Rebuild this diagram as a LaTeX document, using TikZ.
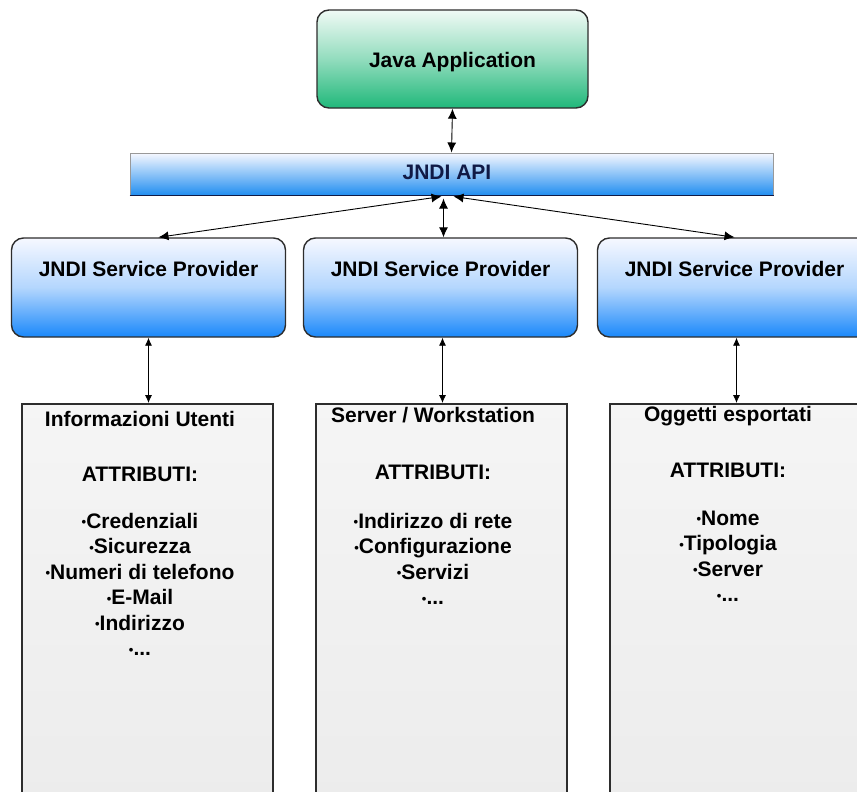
\documentclass[tikz,border=0pt]{standalone}
\usepackage{fontspec}
\setmainfont{Liberation Sans}
\usetikzlibrary{arrows.meta}

\definecolor{appgreen}{RGB}{32,184,122}
\definecolor{apptop}{RGB}{240,250,245}
\definecolor{spblue}{RGB}{26,136,250}
\definecolor{sptop}{RGB}{246,248,255}
\definecolor{apiblue}{RGB}{34,142,240}
\definecolor{apinavy}{RGB}{16,26,70}
\definecolor{boxgrey}{RGB}{236,236,236}
\definecolor{edgegrey}{RGB}{45,45,45}

\newcommand\itm{{\fontsize{13}{13}\selectfont\raisebox{1.5pt}{•}}}

\tikzset{
  lbl/.style={font=\fontsize{21}{25.5}\selectfont\bfseries, inner sep=0pt},
  appbox/.style={draw=edgegrey, line width=1.4pt, rounded corners=12pt,
    top color=apptop, bottom color=appgreen, middle color=apptop!55!appgreen,
    minimum width=271pt, minimum height=98pt, inner sep=0pt},
  apibar/.style={draw=gray!80, line width=1pt, top color=sptop, bottom color=apiblue,
    minimum width=643pt, minimum height=42pt, inner sep=0pt},
  spbox/.style={draw=edgegrey, line width=1.4pt, rounded corners=12pt,
    top color=sptop, bottom color=spblue, middle color=sptop!70!spblue,
    minimum width=274pt, minimum height=99pt, inner sep=0pt},
  infobox/.style={draw=edgegrey, line width=1.8pt, top color=white!96!black,
    bottom color=boxgrey, minimum width=251pt, minimum height=400pt, inner sep=0pt},
  infotext/.style={lbl, align=center, anchor=north},
  link/.style={line width=0.9pt, black, {Latex[length=10pt,width=9pt]}-{Latex[length=10pt,width=9pt]}},
  thinlink/.style={line width=0.8pt, black, {Latex[length=8pt,width=7pt]}-{Latex[length=8pt,width=7pt]}},
}

\begin{document}
\begin{tikzpicture}[x=1pt, y=-1pt]
\useasboundingbox (0,0) rectangle (857,792);
\clip (0,0) rectangle (857,792);

% application and API layer
\node[appbox] (java) at (452.5,59) {};
\node[lbl] (javat) at (452.5,62) {Java Application};

\node[apibar] (api) at (451.5,174) {};
\draw[apinavy, line width=1.4pt] (api.south west) -- (api.south east);
\node[lbl, text=apinavy] (apit) at (447,172) {JNDI API};

% service providers
\node[spbox] (sp1) at (148.5,287.5) {};
\node[spbox] (sp2) at (440.5,287.5) {};
\node[spbox] (sp3) at (734.5,287.5) {};
\node[lbl] (sp1t) at ([yshift=-32pt]sp1.north) {JNDI Service Provider};
\node[lbl] (sp2t) at ([yshift=-32pt]sp2.north) {JNDI Service Provider};
\node[lbl] (sp3t) at ([yshift=-32pt]sp3.north) {JNDI Service Provider};

% directory contents
\node[infobox, anchor=north] (box1) at (147.5,403) {};
\node[infobox, anchor=north] (box2) at (441.5,403) {};
\node[infobox, anchor=north] (box3) at (735.5,403) {};

\node[infotext] (box1t) at (140,411) {Informazioni Utenti\\[29.5pt]
  ATTRIBUTI:\\[21.5pt]
  \itm Credenziali\\ \itm Sicurezza\\ \itm Numeri di telefono\\
  \itm E-Mail\\ \itm Indirizzo\\ \itm ...};
\node[infotext] (box2t) at (433,407) {Server / Workstation\\[31.5pt]
  ATTRIBUTI:\\[23.5pt]
  \itm Indirizzo di rete\\ \itm Configurazione\\ \itm Servizi\\ \itm ...};
\node[infotext] (box3t) at (728,406) {Oggetti esportati\\[30.5pt]
  ATTRIBUTI:\\[22.5pt]
  \itm Nome\\ \itm Tipologia\\ \itm Server\\ \itm ...};

% connectors
\coordinate (apiL) at ([xshift=-10pt,yshift=-1pt]api.south);
\coordinate (apiR) at ([xshift=2pt,yshift=-1pt]api.south);
\coordinate (apiM) at ([xshift=-8pt,yshift=-3pt]api.south);
\draw[link] (java.south) -- (api.north);
\draw[link] (apiL) -- ([xshift=10pt]sp1.north);
\draw[link] (apiM) -- (apiM |- sp2.north);
\draw[link] (apiR) -- (sp3.north);
\draw[thinlink] (sp1.south) -- (sp1.south |- box1.north);
\draw[thinlink] ([xshift=2pt]sp2.south) -- ([xshift=2pt]sp2.south |- box2.north);
\draw[thinlink] ([xshift=2pt]sp3.south) -- ([xshift=2pt]sp3.south |- box3.north);
\end{tikzpicture}
\end{document}
